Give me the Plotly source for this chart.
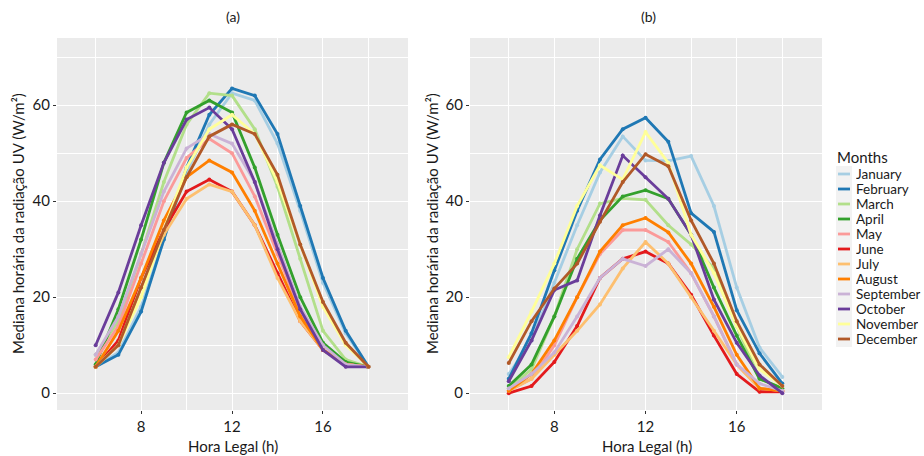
import plotly.graph_objects as go

hours = [6, 7, 8, 9, 10, 11, 12, 13, 14, 15, 16, 17, 18]
months = ["January", "February", "March", "April", "May", "June", "July",
          "August", "September", "October", "November", "December"]
colors = ["#A6CEE3", "#1F78B4", "#B2DF8A", "#33A02C", "#FB9A99", "#E31A1C",
          "#FDBF6F", "#FF7F00", "#CAB2D6", "#6A3D9A", "#FFFF99", "#B15928"]

# Panel (a)
jan_a = [5.5, 8.5, 18, 32, 46, 56, 62.5, 61, 52, 38, 23, 12.5, 5.5]
feb_a = [5.5, 8, 17, 32, 47, 58, 63.5, 62, 54, 39, 24, 13, 5.5]
mar_a = [8, 15, 29, 44, 56, 62.5, 62, 55, 43, 28, 13, 7, 5.5]
apr_a = [6, 17.5, 32, 48, 58.5, 61, 58.5, 47, 33, 20, 10.5, 6.5, 5.5]
may_a = [7, 14, 27, 40, 49, 53, 50, 41, 29, 17, 9, 6, 5.5]
jun_a = [5.5, 11, 24, 34, 42, 44.5, 42, 35, 25, 15, 9, 6, 5.5]
jul_a = [5.5, 10, 22, 33, 40.5, 43.5, 42, 35, 24, 15, 9, 6, 5.5]
aug_a = [5.5, 13, 24, 36, 45, 48.5, 46, 38, 27, 16, 9, 6, 5.5]
sep_a = [8, 16, 29, 42, 51, 54, 52, 44, 31, 18, 10, 6, 5.5]
oct_a = [10, 21, 35, 48, 57, 59.5, 55, 44, 30, 17.5, 9, 5.5, 5.5]
nov_a = [5.5, 10, 20, 34, 47, 55, 58, 54, 44, 31, 18, 10, 5.5]
dec_a = [5.5, 10, 22, 34, 45, 53.5, 56, 54, 45.5, 31, 19, 10.5, 5.5]

# Panel (b)
jan_b = [4, 11, 23, 35, 46, 53.5, 48.5, 48.4, 49.4, 39, 22, 9.5, 3.4]
feb_b = [3, 12.5, 25.6, 38, 48.7, 55, 57.4, 52.4, 37.5, 33.6, 17.3, 8.3, 2]
mar_b = [1, 5, 16, 30, 39.5, 40.6, 40.3, 35, 31, 26, 14, 3, 1]
apr_b = [1.5, 6, 16, 28, 36, 41, 42.3, 40.5, 33, 22, 12, 3, 1]
may_b = [0.5, 3, 10, 20, 29, 34, 34, 31.5, 25, 16, 6, 1, 0.5]
jun_b = [0, 1.5, 6.5, 14, 24, 28, 29.5, 27, 20.5, 12, 4, 0.3, 0.3]
jul_b = [0.5, 3, 8, 13, 18.5, 26, 31.5, 27, 20, 13, 6, 1, 0.5]
aug_b = [0.5, 4, 11, 20, 29.5, 35, 36.5, 33.5, 27, 18, 8, 1, 0.5]
sep_b = [1, 4, 8.5, 16, 24, 28, 26.5, 30, 25, 16, 6, 2, 0.5]
oct_b = [2.5, 11, 21.5, 23.5, 37, 49.5, 45, 40.5, 33, 19.5, 10.5, 3.7, 0]
nov_b = [7.5, 17, 27, 39, 47.5, 44.5, 54.4, 48, 33, 25, 14, 5, 1.5]
dec_b = [6.3, 15, 21.8, 27, 35.7, 44, 49.8, 47.3, 36, 27, 15, 6, 1.5]

series_a = [jan_a, feb_a, mar_a, apr_a, may_a, jun_a, jul_a, aug_a, sep_a, oct_a, nov_a, dec_a]
series_b = [jan_b, feb_b, mar_b, apr_b, may_b, jun_b, jul_b, aug_b, sep_b, oct_b, nov_b, dec_b]

FONT = "Lato"
TXT = "#1a1a1a"
W, H = 924, 456

fig = go.Figure()
for i, m in enumerate(months):
    fig.add_trace(go.Scatter(x=hours, y=series_a[i], mode="lines+markers", name=m,
                             line=dict(color=colors[i], width=2.8),
                             marker=dict(color=colors[i], size=4),
                             legendgroup=m, showlegend=False,
                             xaxis="x", yaxis="y"))
for i, m in enumerate(months):
    fig.add_trace(go.Scatter(x=hours, y=series_b[i], mode="lines+markers", name=m,
                             line=dict(color=colors[i], width=2.8),
                             marker=dict(color=colors[i], size=4),
                             legendgroup=m, showlegend=False,
                             xaxis="x2", yaxis="y2"))


def px_x(p):
    return p / W


def px_y(p):
    return 1 - p / H


xax = dict(range=[4.3, 19.74], tickvals=[8, 12, 16], showgrid=True, gridcolor="white",
           gridwidth=1.3, zeroline=False, ticks="outside", ticklen=3, tickcolor="#333333",
           tickfont=dict(family=FONT, size=15, color=TXT), showline=False,
           minor=dict(tickvals=[6, 10, 14, 18], showgrid=True, gridcolor="white", gridwidth=0.6))
yax = dict(range=[-3.5, 74], tickvals=[0, 20, 40, 60], showgrid=True, gridcolor="white",
           gridwidth=1.3, zeroline=False, ticks="outside", ticklen=3, tickcolor="#333333",
           tickfont=dict(family=FONT, size=15, color=TXT), showline=False,
           minor=dict(tickvals=[10, 30, 50, 70], showgrid=True, gridcolor="white", gridwidth=0.6),
           domain=[px_y(410), px_y(38)])

fig.update_layout(
    width=W, height=H,
    margin=dict(l=0, r=0, t=0, b=0),
    paper_bgcolor="white", plot_bgcolor="#EBEBEB",
    xaxis={**xax, "domain": [px_x(57), px_x(408)], "anchor": "y"},
    yaxis={**yax, "anchor": "x"},
    xaxis2={**xax, "domain": [px_x(470), px_x(822)], "anchor": "y2"},
    yaxis2={**yax, "anchor": "x2"},
    showlegend=False,
)

anns = [
    dict(text="(a)", x=px_x(233), y=px_y(16), font=dict(size=14), xanchor="center"),
    dict(text="(b)", x=px_x(648), y=px_y(16), font=dict(size=14), xanchor="center"),
    dict(text="Hora Legal (h)", x=px_x(233), y=px_y(446), font=dict(size=15), xanchor="center"),
    dict(text="Hora Legal (h)", x=px_x(647), y=px_y(446), font=dict(size=15), xanchor="center"),
    dict(text="Mediana horária da radiação UV (W/m²)", x=px_x(18), y=px_y(224),
         textangle=-90, font=dict(size=15), xanchor="center"),
    dict(text="Mediana horária da radiação UV (W/m²)", x=px_x(432), y=px_y(224),
         textangle=-90, font=dict(size=15), xanchor="center"),
    dict(text="Months", x=px_x(835), y=px_y(157), font=dict(size=15), xanchor="left"),
]

# Manual legend (ggplot-like compact keys)
leg_top = 174
leg_step = 15
fig.add_shape(type="rect", xref="paper", yref="paper",
              x0=px_x(836), x1=px_x(852), y0=px_y(leg_top - 8),
              y1=px_y(leg_top + leg_step * 11 + 8),
              fillcolor="#F2F2F2", line=dict(width=0), layer="below")
for i, m in enumerate(months):
    yc = leg_top + i * leg_step
    fig.add_shape(type="line", xref="paper", yref="paper",
                  x0=px_x(838), x1=px_x(850), y0=px_y(yc), y1=px_y(yc),
                  line=dict(color=colors[i], width=2.8))
    anns.append(dict(text=m, x=px_x(855), y=px_y(yc), font=dict(size=13.5), xanchor="left",
                     height=14, borderpad=0))

for a in anns:
    a["font"] = {**a["font"], "family": FONT, "color": TXT}
    fig.add_annotation(xref="paper", yref="paper", showarrow=False,
                       yanchor="middle", **a)

fig.write_html("out.html", config={"displayModeBar": False},
               post_script="document.body.style.margin='0';document.body.style.overflow='hidden';")
